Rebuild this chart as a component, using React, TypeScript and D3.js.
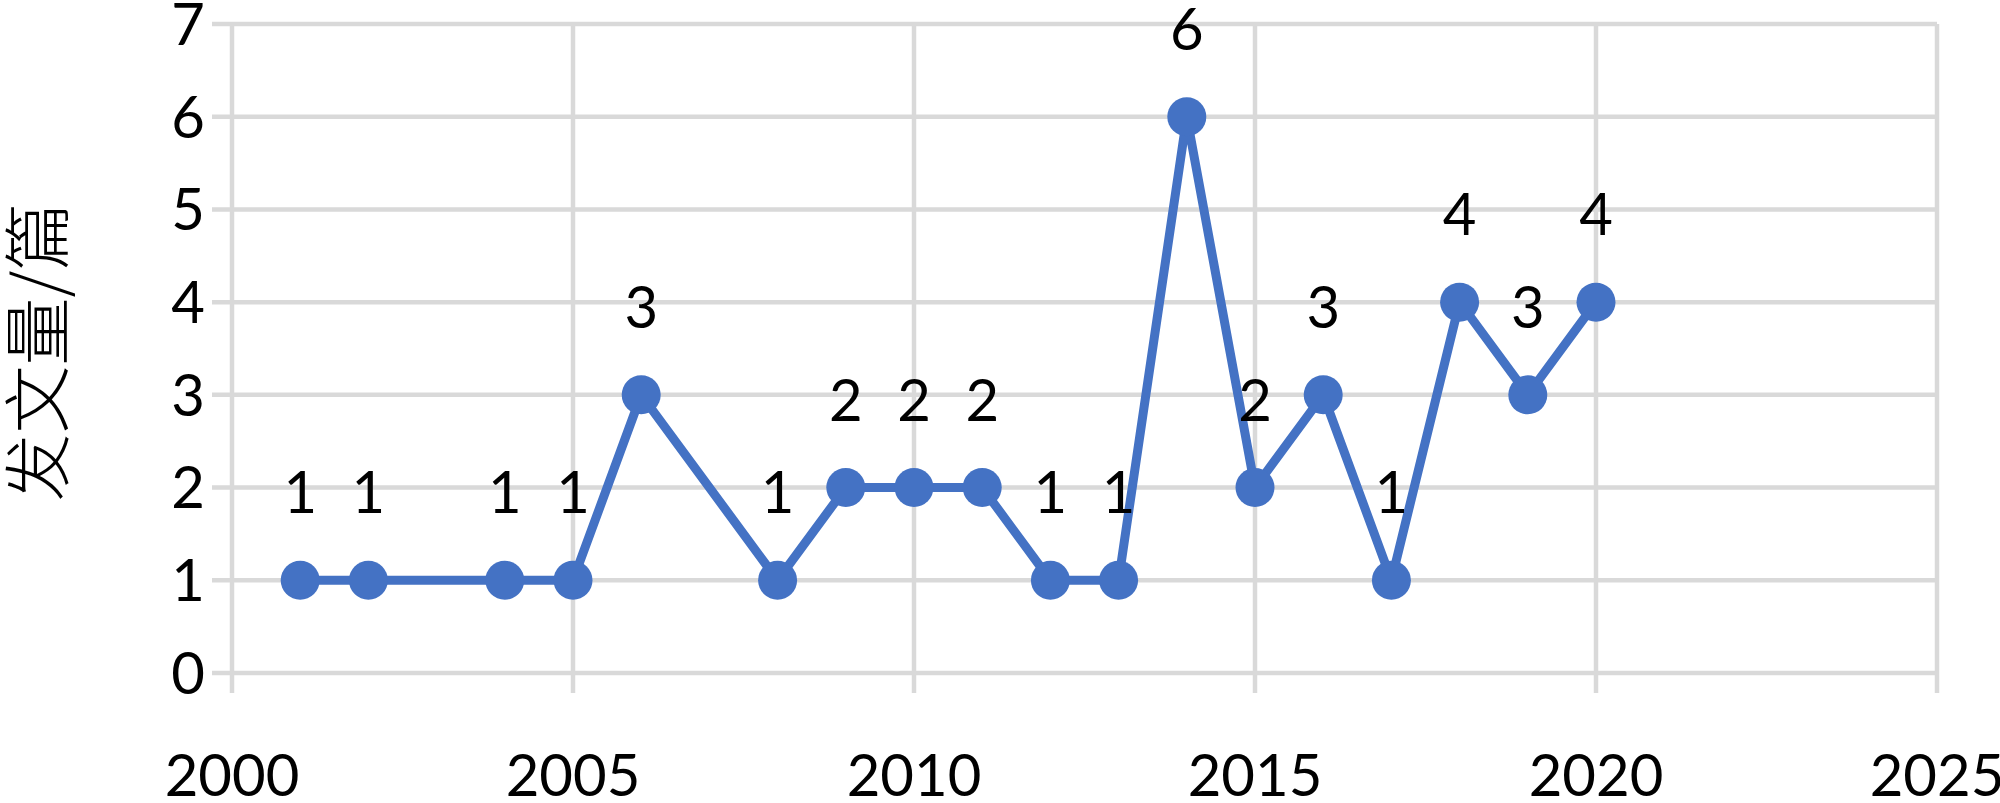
import React from 'react';
import * as d3 from 'd3';

// publications per year
const years = [2001, 2002, 2004, 2005, 2006, 2008, 2009, 2010, 2011, 2012, 2013, 2014, 2015, 2016, 2017, 2018, 2019, 2020];
const counts = [1, 1, 1, 1, 3, 1, 2, 2, 2, 1, 1, 6, 2, 3, 1, 4, 3, 4];
const xTicks = [2000, 2005, 2010, 2015, 2020, 2025];
const yTicks = [0, 1, 2, 3, 4, 5, 6, 7];
const yTitle = '发文量/篇';

const W = 2000;
const H = 803;
const lineColor = '#4472C4';
const gridColor = '#d9d9d9';
const font = 'Lato, "Open Sans", sans-serif';
const fs = 58;

export default function App() {
  const x = d3.scaleLinear().domain([2000, 2025]).range([232, 1937]);
  const y = d3.scaleLinear().domain([0, 7]).range([673, 24]);

  const points = years.map((yr, i) => ({ yr, v: counts[i] }));
  const line = d3.line<{ yr: number; v: number }>()
    .x(d => x(d.yr))
    .y(d => y(d.v));

  const [x0, x1] = x.range();
  const [y0, y1] = y.range();

  return (
    <svg width={W} height={H} style={{ position: 'absolute', left: 0, top: 0, display: 'block', background: '#fff' }}>
      {/* horizontal grid */}
      {yTicks.map(t => (
        <line key={'h' + t} x1={x0 - 20} x2={x1} y1={y(t)} y2={y(t)} stroke={gridColor} strokeWidth={4.5} />
      ))}
      {/* vertical grid */}
      {xTicks.map(t => (
        <line key={'v' + t} x1={x(t)} x2={x(t)} y1={y1} y2={y0 + 20} stroke={gridColor} strokeWidth={4.5} />
      ))}

      {/* y tick labels */}
      {yTicks.map(t => (
        <text key={'yl' + t} x={205} y={y(t)} dy="0.36em" textAnchor="end" fontFamily={font} fontSize={fs} fill="#000">
          {t}
        </text>
      ))}
      {/* x tick labels */}
      {xTicks.map(t => (
        <text key={'xl' + t} x={x(t)} y={796} textAnchor="middle" fontFamily={font} fontSize={fs} fill="#000">
          {t}
        </text>
      ))}

      {/* y title */}
      <text
        transform={`translate(63, 352) rotate(-90)`}
        textAnchor="middle"
        fontFamily='"Noto Sans CJK SC", sans-serif'
        fontWeight={300}
        fontSize={68}
        fill="#000"
      >
        {yTitle}
      </text>

      {/* series */}
      <path d={line(points) || ''} fill="none" stroke={lineColor} strokeWidth={9} strokeLinejoin="round" />
      {points.map(p => (
        <circle key={'c' + p.yr} cx={x(p.yr)} cy={y(p.v)} r={19.5} fill={lineColor} />
      ))}
      {points.map(p => (
        <text key={'dl' + p.yr} x={x(p.yr)} y={y(p.v) - 67} textAnchor="middle" fontFamily={font} fontSize={fs} fill="#000">
          {p.v}
        </text>
      ))}
    </svg>
  );
}
